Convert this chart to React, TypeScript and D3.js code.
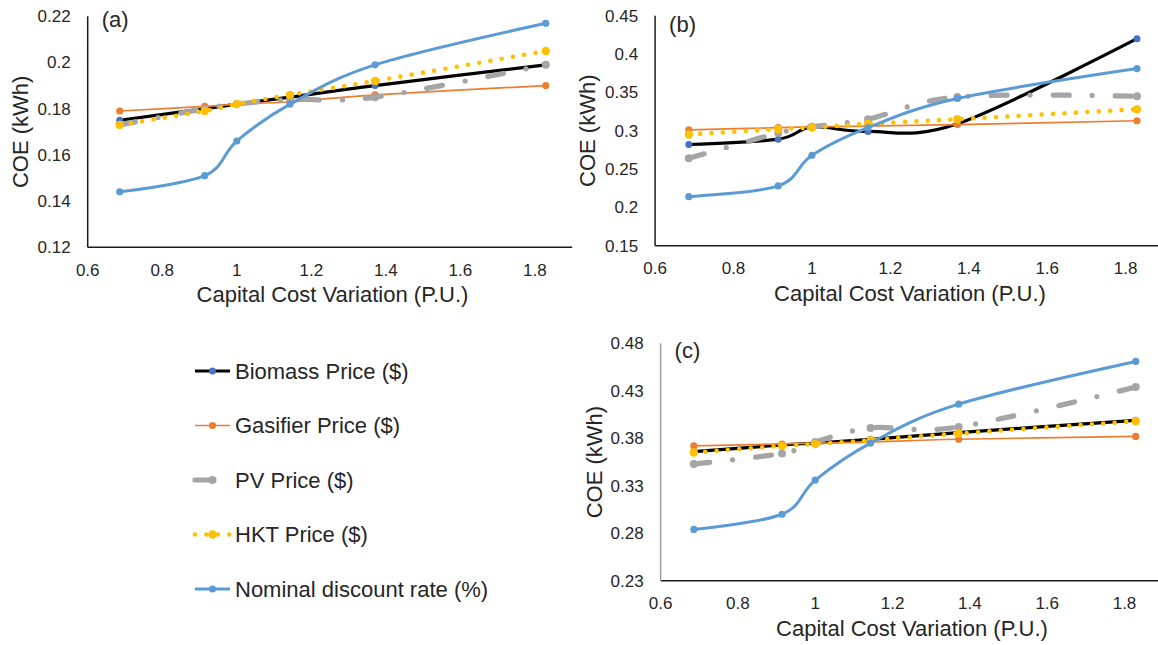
import React from 'react';
import * as d3 from 'd3';

// Capital cost variation (per unit) at which the COE was evaluated
const capitalCostPU = [0.686, 0.914, 1.0, 1.143, 1.371, 1.829];
const xTickValues = [0.6, 0.8, 1, 1.2, 1.4, 1.6, 1.8];

const seriesNames = [
  'Biomass Price ($)',
  'Gasifier Price ($)',
  'PV Price ($)',
  'HKT Price ($)',
  'Nominal discount rate (%)',
];

// Panel (a)
const biomassA = [0.175, 0.18, 0.182, 0.185, 0.19, 0.199];
const gasifierA = [0.179, 0.181, 0.182, 0.183, 0.186, 0.19];
const pvA = [0.173, 0.18, 0.182, 0.184, 0.185, 0.199];
const hktA = [0.173, 0.179, 0.182, 0.186, 0.192, 0.205];
const nominalA = [0.144, 0.151, 0.166, 0.182, 0.199, 0.217];
const yTicksA = [0.12, 0.14, 0.16, 0.18, 0.2, 0.22];

// Panel (b)
const biomassB = [0.282, 0.289, 0.305, 0.299, 0.309, 0.42];
const gasifierB = [0.301, 0.304, 0.305, 0.306, 0.308, 0.313];
const pvB = [0.264, 0.297, 0.305, 0.315, 0.344, 0.345];
const hktB = [0.295, 0.302, 0.304, 0.309, 0.315, 0.328];
const nominalB = [0.214, 0.228, 0.268, 0.304, 0.342, 0.381];
const yTicksB = [0.15, 0.2, 0.25, 0.3, 0.35, 0.4, 0.45];

// Panel (c)
const biomassC = [0.366, 0.373, 0.375, 0.379, 0.386, 0.399];
const gasifierC = [0.372, 0.374, 0.375, 0.376, 0.379, 0.382];
const pvC = [0.353, 0.364, 0.376, 0.391, 0.392, 0.434];
const hktC = [0.365, 0.372, 0.374, 0.378, 0.385, 0.398];
const nominalC = [0.284, 0.3, 0.336, 0.375, 0.416, 0.461];
const yTicksC = [0.23, 0.28, 0.33, 0.38, 0.43, 0.48];

type SeriesStyle = {
  stroke: string;
  width: number;
  dash?: string;
  cap?: 'round' | 'butt';
  marker: string;
  r: number;
};

const styles: SeriesStyle[] = [
  { stroke: '#000000', width: 3.2, marker: '#4472C4', r: 3.5 },
  { stroke: '#ED7D31', width: 1.7, marker: '#ED7D31', r: 3.6 },
  { stroke: '#A5A5A5', width: 5.2, dash: '16 23 0 23', cap: 'round', marker: '#A5A5A5', r: 4 },
  { stroke: '#FFC000', width: 4.6, dash: '0 11.4', cap: 'round', marker: '#FFC000', r: 4.2 },
  { stroke: '#5B9BD5', width: 3, marker: '#5B9BD5', r: 3.6 },
];

const FONT = '"Liberation Sans", Arial, Helvetica, sans-serif';
const TEXT = '#262626';

type PanelSpec = {
  label: string;
  series: number[][];
  yTicks: number[];
  left: number;
  unit: number;
  top: number;
  bottom: number;
  yAxisColor: string;
  yTitleX: number;
  xTitleX: number;
  xTitleY: number;
  labelY: number;
};

const panels: PanelSpec[] = [
  {
    label: '(a)',
    series: [biomassA, gasifierA, pvA, hktA, nominalA],
    yTicks: yTicksA,
    left: 87.7,
    unit: 372.7,
    top: 16.3,
    bottom: 247.3,
    yAxisColor: '#1a1a1a',
    yTitleX: 22,
    xTitleX: 332.5,
    xTitleY: 302,
    labelY: 26.5,
  },
  {
    label: '(b)',
    series: [biomassB, gasifierB, pvB, hktB, nominalB],
    yTicks: yTicksB,
    left: 655.1,
    unit: 392.1,
    top: 15.7,
    bottom: 245.7,
    yAxisColor: '#1a1a1a',
    yTitleX: 589,
    xTitleX: 910,
    xTitleY: 301,
    labelY: 32.4,
  },
  {
    label: '(c)',
    series: [biomassC, gasifierC, pvC, hktC, nominalC],
    yTicks: yTicksC,
    left: 660.6,
    unit: 386.6,
    top: 343.4,
    bottom: 580.7,
    yAxisColor: '#a0a0a0',
    yTitleX: 596,
    xTitleX: 912,
    xTitleY: 636,
    labelY: 357.7,
  },
];

const fmt = (v: number) => String(+v.toFixed(2));

function Panel({ p }: { p: PanelSpec }) {
  const x = d3
    .scaleLinear()
    .domain([0.6, 1.9])
    .range([p.left, p.left + 1.3 * p.unit]);
  const y = d3
    .scaleLinear()
    .domain([p.yTicks[0], p.yTicks[p.yTicks.length - 1]])
    .range([p.bottom, p.top]);

  const line = d3
    .line<number>()
    .x((_, i) => x(capitalCostPU[i]))
    .y((d) => y(d))
    .curve(d3.curveCardinal.tension(0));

  const yMid = (p.top + p.bottom) / 2;

  return (
    <g>
      {/* axes */}
      <line x1={p.left} x2={x(1.9)} y1={p.bottom} y2={p.bottom} stroke="#1a1a1a" strokeWidth={1.5} />
      <line x1={p.left} x2={p.left} y1={p.top} y2={p.bottom} stroke={p.yAxisColor} strokeWidth={1.5} />

      {/* y tick labels */}
      {p.yTicks.map((t) => (
        <text
          key={'y' + t}
          x={p.left - 17}
          y={y(t)}
          dy="0.35em"
          textAnchor="end"
          fontSize={17}
          fontFamily={FONT}
          fill={TEXT}
        >
          {fmt(t)}
        </text>
      ))}

      {/* x tick labels */}
      {xTickValues.map((t) => (
        <text
          key={'x' + t}
          x={x(t)}
          y={p.bottom + 22.7}
          dy="0.35em"
          textAnchor="middle"
          fontSize={17}
          fontFamily={FONT}
          fill={TEXT}
        >
          {fmt(t)}
        </text>
      ))}

      {/* axis titles */}
      <text
        transform={`translate(${p.yTitleX},${yMid}) rotate(-90)`}
        dy="0.27em"
        textAnchor="middle"
        fontSize={22}
        fontFamily={FONT}
        fill={TEXT}
      >
        COE (kWh)
      </text>
      <text x={p.xTitleX} y={p.xTitleY} textAnchor="middle" fontSize={22} fontFamily={FONT} fill={TEXT}>
        Capital Cost Variation (P.U.)
      </text>

      {/* panel tag */}
      <text x={p.left + 14} y={p.labelY} fontSize={22} fontFamily={FONT} fill={TEXT}>
        {p.label}
      </text>

      {/* series */}
      {p.series.map((vals, si) => {
        const s = styles[si];
        return (
          <g key={si}>
            <path
              d={line(vals) || ''}
              fill="none"
              stroke={s.stroke}
              strokeWidth={s.width}
              strokeDasharray={s.dash}
              strokeLinecap={s.cap || 'butt'}
              strokeLinejoin="round"
            />
            {vals.map((v, i) => (
              <circle key={i} cx={x(capitalCostPU[i])} cy={y(v)} r={s.r} fill={s.marker} />
            ))}
          </g>
        );
      })}
    </g>
  );
}

const legendTop = 371;
const legendStep = 54.5;

function Legend() {
  return (
    <g>
      {seriesNames.map((name, i) => {
        const s = styles[i];
        const cy = legendTop + i * legendStep;
        return (
          <g key={name}>
            <line
              x1={195}
              x2={230}
              y1={cy}
              y2={cy}
              stroke={s.stroke}
              strokeWidth={s.width}
              strokeDasharray={s.dash}
              strokeLinecap={s.cap || 'butt'}
            />
            <circle cx={212.5} cy={cy} r={s.r} fill={s.marker} />
            <text x={235} y={cy} dy="0.35em" fontSize={22} fontFamily={FONT} fill={TEXT}>
              {name}
            </text>
          </g>
        );
      })}
    </g>
  );
}

export default function App() {
  return (
    <svg
      width={1158}
      height={645}
      viewBox="0 0 1158 645"
      style={{ position: 'absolute', left: 0, top: 0, background: '#ffffff' }}
    >
      <rect x={0} y={0} width={1158} height={645} fill="#ffffff" />
      {panels.map((p) => (
        <Panel key={p.label} p={p} />
      ))}
      <Legend />
    </svg>
  );
}
